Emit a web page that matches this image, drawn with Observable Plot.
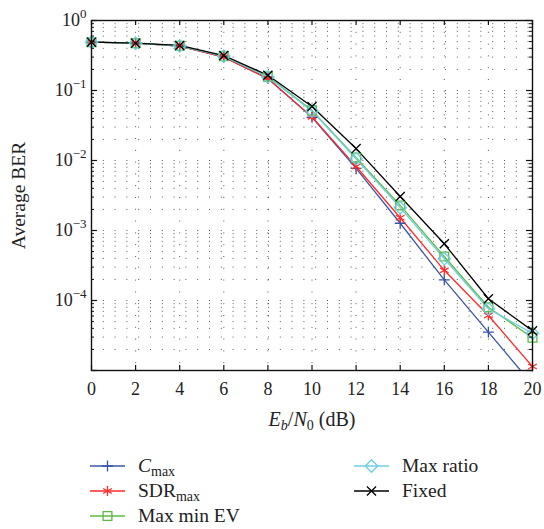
<!DOCTYPE html>
<html>
<head>
<meta charset="utf-8">
<script src="https://cdn.jsdelivr.net/npm/d3@7"></script>
<script src="https://cdn.jsdelivr.net/npm/@observablehq/plot@0.6"></script>
<style>
  html, body { margin: 0; padding: 0; background: #fff; }
  #wrap { position: relative; width: 544px; height: 529px; font-family: "Liberation Serif", serif; color: #222; }
  #legend { position: absolute; left: 0; top: 445px; width: 544px; height: 84px; }
  .col { position: absolute; top: 8px; }
  .row { display: flex; align-items: center; height: 25px; font-size: 19.5px; }
  .row svg { margin-right: 13px; flex: none; }
  .row sub { font-size: 14px; vertical-align: -4px; line-height: 0; }
</style>
</head>
<body>
<div id="wrap">
  <div id="chart"></div>
  <div id="legend"></div>
</div>
<script>
// ---- data ----
const ebn0 = [0, 2, 4, 6, 8, 10, 12, 14, 16, 18, 20];
const cmax      = [0.49, 0.475, 0.43, 0.300, 0.148, 0.0415, 0.0077, 0.00127, 0.000197, 0.0000353, 0.0000063];
const sdrmax    = [0.49, 0.475, 0.43, 0.300, 0.148, 0.0420, 0.0082, 0.00152, 0.000270, 0.0000610, 0.0000114];
const maxMinEV  = [0.49, 0.475, 0.435, 0.310, 0.158, 0.0520, 0.0110, 0.00228, 0.000425, 0.0000800, 0.0000293];
const maxRatio  = [0.49, 0.475, 0.435, 0.310, 0.156, 0.0510, 0.0106, 0.00212, 0.000395, 0.0000760, 0.0000340];
const fixedSel  = [0.49, 0.475, 0.44, 0.316, 0.165, 0.0590, 0.0148, 0.00306, 0.000646, 0.000106, 0.0000370];

const seriesNames   = ["Cmax", "SDRmax", "Max min EV", "Max ratio", "Fixed"];
const seriesValues  = [cmax, sdrmax, maxMinEV, maxRatio, fixedSel];
const seriesColors  = ["#3a55a6", "#ff2a2a", "#5cbb44", "#6ccfe0", "#000000"];
const seriesSymbols = ["plus", "asterisk", "square2", "diamond2", "times"];
const seriesR       = [3.6, 4.7, 5.6, 5.6, 4.2];

const yMajorTicks = [1, 0.1, 0.01, 0.001, 0.0001, 0.00001];
const yLabelTicks = [1, 0.1, 0.01, 0.001, 0.0001];
const yMinorTicks = [];
for (let k = -5; k < 0; k++) for (let m = 2; m <= 9; m++) yMinorTicks.push(m * Math.pow(10, k));

// ---- layout ----
const W = 544, H = 445, mL = 91, mR = 12, mT = 20, mB = 75;
const innerW = W - mL - mR, innerH = H - mT - mB;

const gridStyle = { stroke: "#111", strokeOpacity: 0.7, strokeDasharray: "1,10.8" };

const marks = [
  Plot.ruleY(yMinorTicks.concat(yMajorTicks), gridStyle),
  Plot.ruleX(ebn0, gridStyle)
];

seriesNames.forEach((name, i) => {
  const rows = ebn0.map((x, j) => ({ x, y: seriesValues[i][j] }));
  marks.push(Plot.line(rows, { x: "x", y: "y", stroke: seriesColors[i], strokeWidth: 1.3, clip: true }));
});
seriesNames.forEach((name, i) => {
  const rows = ebn0.map((x, j) => ({ x, y: seriesValues[i][j] })).filter(d => d.y >= 1e-5);
  marks.push(Plot.dot(rows, { x: "x", y: "y", stroke: seriesColors[i], symbol: seriesSymbols[i], r: seriesR[i], strokeWidth: 1.3 }));
});

marks.push(
  Plot.tickX(ebn0, { insetTop: innerH - 5, stroke: "#111", strokeWidth: 1.2 }),
  Plot.tickX(ebn0, { insetBottom: innerH - 5, stroke: "#111", strokeWidth: 1.2 }),
  Plot.tickY(yMajorTicks, { insetRight: innerW - 6, stroke: "#111", strokeWidth: 1.2 }),
  Plot.tickY(yMajorTicks, { insetLeft: innerW - 6, stroke: "#111", strokeWidth: 1.2 }),
  Plot.tickY(yMinorTicks, { insetRight: innerW - 3, stroke: "#111", strokeWidth: 1 }),
  Plot.tickY(yMinorTicks, { insetLeft: innerW - 3, stroke: "#111", strokeWidth: 1 }),
  Plot.frame({ stroke: "#111", strokeWidth: 1.4 }),
  Plot.axisX({ ticks: ebn0, tickSize: 0, tickPadding: 12, tickFormat: d => String(d),
               label: "Eb/N0 (dB)", labelAnchor: "center", labelArrow: "none", labelOffset: 55, fill: "#222" }),
  Plot.axisY({ ticks: yLabelTicks, tickSize: 0, tickPadding: 5,
               tickFormat: d => "10^" + Math.round(Math.log10(d)),
               label: "Average BER", labelAnchor: "center", labelArrow: "none", labelOffset: 80, fill: "#222" })
);

const chart = Plot.plot({
  width: W, height: H,
  marginLeft: mL, marginRight: mR, marginTop: mT, marginBottom: mB,
  style: { fontFamily: "Liberation Serif, serif", fontSize: "18px", background: "#fff", overflow: "visible" },
  x: { domain: [0, 20] },
  y: { type: "log", domain: [1e-5, 1] },
  marks
});
document.getElementById("chart").appendChild(chart);

// superscripts on y tick labels
const svg = d3.select(chart);
svg.selectAll('g[aria-label="y-axis tick label"] text').each(function () {
  const t = d3.select(this);
  const s = this.textContent;
  const exp = s.split("^")[1].replace("-", "\u2212");
  t.text(null);
  t.append("tspan").text("10");
  t.append("tspan").attr("dy", "-8px").attr("font-size", "13px").text(exp);
});
// rich x label
svg.selectAll('g[aria-label="x-axis label"] text').each(function () {
  const t = d3.select(this);
  t.text(null).attr("font-size", "20px");
  t.append("tspan").attr("font-style", "italic").text("E");
  t.append("tspan").attr("font-style", "italic").attr("font-size", "14px").attr("dy", "4px").text("b");
  t.append("tspan").attr("dy", "-4px").text("/");
  t.append("tspan").attr("font-style", "italic").text("N");
  t.append("tspan").attr("font-size", "14px").attr("dy", "4px").text("0");
  t.append("tspan").attr("dy", "-4px").text(" (dB)");
});
svg.selectAll('g[aria-label="y-axis label"] text').attr("font-size", "19.5px");

// ---- legend ----
const legendLabels = [
  '<i>C</i><sub>max</sub>',
  'SDR<sub>max</sub>',
  'Max min EV',
  'Max ratio',
  'Fixed'
];
const symbolTypes = { plus: d3.symbolPlus, asterisk: d3.symbolAsterisk, square2: d3.symbolSquare2, diamond2: d3.symbolDiamond2, times: d3.symbolTimes };
const legend = document.getElementById("legend");
const cols = [{ left: 90, items: [0, 1, 2] }, { left: 354, items: [3, 4] }];
cols.forEach(c => {
  const col = document.createElement("div");
  col.className = "col";
  col.style.left = c.left + "px";
  c.items.forEach(i => {
    const row = document.createElement("div");
    row.className = "row";
    const s = d3.create("svg").attr("width", 35).attr("height", 18);
    s.append("line").attr("x1", 0).attr("x2", 35).attr("y1", 9).attr("y2", 9)
      .attr("stroke", seriesColors[i]).attr("stroke-width", 1.3);
    s.append("path").attr("transform", "translate(17.5,9)")
      .attr("d", d3.symbol(symbolTypes[seriesSymbols[i]], Math.PI * seriesR[i] * seriesR[i])())
      .attr("fill", "none").attr("stroke", seriesColors[i]).attr("stroke-width", 1.3);
    row.appendChild(s.node());
    const span = document.createElement("span");
    span.innerHTML = legendLabels[i];
    row.appendChild(span);
    col.appendChild(row);
  });
  legend.appendChild(col);
});
</script>
</body>
</html>
